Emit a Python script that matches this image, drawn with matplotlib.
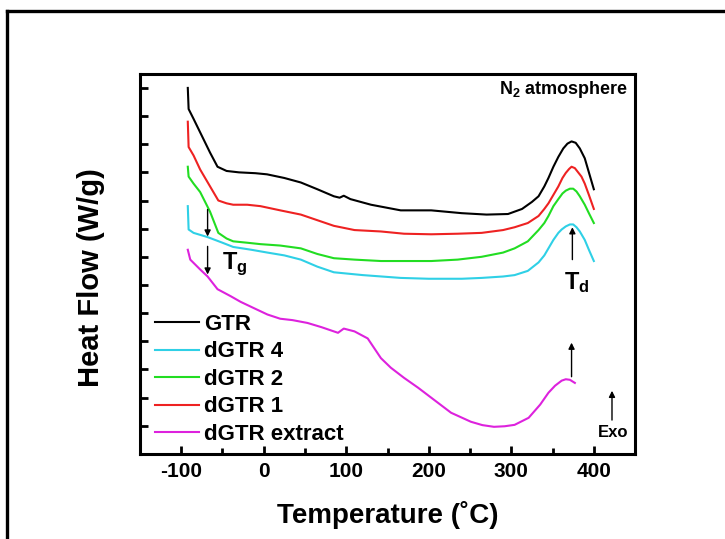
import matplotlib
matplotlib.use("Agg")
import matplotlib.pyplot as plt
from matplotlib.lines import Line2D

plt.rcParams['font.family'] = ['Liberation Sans', 'DejaVu Sans']
plt.rcParams['font.weight'] = 'bold'
plt.rcParams['axes.unicode_minus'] = False
plt.rcParams['mathtext.fontset'] = 'custom'
plt.rcParams['mathtext.rm'] = 'Liberation Sans:bold'
plt.rcParams['mathtext.bf'] = 'Liberation Sans:bold'
plt.rcParams['mathtext.it'] = 'Liberation Sans:bold'

# ---- data (temperature in C, heat flow in arbitrary offset units)
gtr_x = [-92, -91, -85, -75, -65, -56, -45, -30, -10, 4, 25, 45, 65, 85, 92, 97, 105,
         130, 166, 203, 240, 270, 296, 313, 325, 333, 340, 345, 351, 357, 363, 368, 373,
         378, 383, 389, 394, 400]
gtr_y = [13.0, 12.25, 11.9, 11.3, 10.7, 10.2, 10.05, 10.0, 9.97, 9.93, 9.8, 9.64, 9.4, 9.15,
         9.1, 9.17, 9.05, 8.85, 8.65, 8.65, 8.55, 8.5, 8.52, 8.7, 8.95, 9.15, 9.5, 9.8,
         10.2, 10.55, 10.85, 11.02, 11.1, 11.05, 10.85, 10.5, 10.0, 9.4]

dgtr1_x = [-92, -91, -85, -77, -65, -55, -45, -37, -20, -4, 20, 45, 65, 85, 110, 142,
           170, 203, 235, 264, 290, 304, 320, 333, 340, 345, 351, 357, 362, 366, 370, 373,
           377, 381, 385, 389, 394, 400]
dgtr1_y = [11.8, 10.9, 10.6, 10.1, 9.5, 9.0, 8.9, 8.85, 8.85, 8.8, 8.65, 8.5, 8.3, 8.1,
           7.95, 7.9, 7.82, 7.8, 7.82, 7.85, 7.95, 8.05, 8.2, 8.45, 8.7, 8.9, 9.2, 9.5,
           9.8, 9.98, 10.12, 10.2, 10.15, 10.0, 9.85, 9.6, 9.2, 8.7]

dgtr2_x = [-92, -91, -85, -77, -65, -55, -45, -37, -20, -4, 20, 45, 65, 85, 110, 142,
           170, 203, 235, 264, 290, 304, 320, 333, 340, 345, 351, 357, 362, 366, 371, 375,
           379, 383, 389, 394, 400]
dgtr2_y = [10.2, 9.85, 9.6, 9.3, 8.6, 7.85, 7.65, 7.55, 7.5, 7.45, 7.4, 7.3, 7.1, 6.95,
           6.9, 6.85, 6.85, 6.85, 6.9, 7.0, 7.15, 7.3, 7.55, 7.95, 8.2, 8.45, 8.8, 9.05,
           9.25, 9.35, 9.42, 9.42, 9.32, 9.15, 8.85, 8.55, 8.2]

dgtr4_x = [-92, -91, -85, -68, -50, -37, -15, 4.5, 25, 45, 65, 85, 120, 166, 200, 240,
           264, 290, 304, 320, 333, 340, 345, 351, 357, 361, 366, 371, 375, 379, 383, 389,
           394, 400]
dgtr4_y = [8.8, 7.97, 7.85, 7.7, 7.5, 7.35, 7.25, 7.15, 7.05, 6.9, 6.65, 6.45, 6.35, 6.25,
           6.22, 6.22, 6.25, 6.3, 6.35, 6.5, 6.8, 7.05, 7.3, 7.6, 7.85, 7.97, 8.08, 8.15,
           8.15, 8.05, 7.9, 7.6, 7.25, 6.85]

extract_x = [-92, -89, -77, -68, -56, -40, -28, -10, 4.5, 20, 35, 53, 70, 90, 97, 110,
             126, 142, 154, 170, 187, 227, 251, 265, 279, 292, 304, 321, 335, 345, 353,
             361, 366, 371, 377]
extract_y = [7.25, 6.9, 6.55, 6.3, 5.85, 5.6, 5.4, 5.15, 4.95, 4.8, 4.75, 4.65, 4.5, 4.3,
             4.45, 4.35, 4.1, 3.4, 3.06, 2.7, 2.35, 1.46, 1.14, 1.02, 0.96, 0.98, 1.03,
             1.28, 1.75, 2.17, 2.42, 2.6, 2.65, 2.63, 2.52]

series = [
    ("GTR", gtr_x, gtr_y, "#000000"),
    ("dGTR 4", dgtr4_x, dgtr4_y, "#2fd0e6"),
    ("dGTR 2", dgtr2_x, dgtr2_y, "#22dd22"),
    ("dGTR 1", dgtr1_x, dgtr1_y, "#ee2222"),
    ("dGTR extract", extract_x, extract_y, "#dd22dd"),
]

x_ticks = [-100, 0, 100, 200, 300, 400]
y_ticks = list(range(1, 14))

# ---- figure
fig = plt.figure(figsize=(7.25, 5.39), dpi=100)
ax = fig.add_axes([0.193, 0.158, 0.683, 0.705])

for name, xs, ys, col in series:
    ax.plot(xs, ys, color=col, lw=1.5, label=name)

ax.set_xlim(-150, 450)
ax.set_ylim(0, 13.5)
ax.set_xticks(x_ticks)
ax.set_xticks([-50, 50, 150, 250, 350], minor=True)
ax.set_yticks(y_ticks)
ax.set_yticklabels([])
ax.tick_params(axis='both', which='both', direction='in', width=2, top=False, right=False)
ax.tick_params(axis='both', which='major', length=6)
ax.tick_params(axis='x', which='minor', length=4)
ax.tick_params(axis='x', labelsize=15, pad=6)
for s in ax.spines.values():
    s.set_linewidth(2.2)

ax.set_xlabel("Temperature (˚C)", fontsize=20, fontweight='bold', labelpad=14)
ax.set_ylabel("Heat Flow (W/g)", fontsize=21, fontweight='bold')
ax.yaxis.set_label_coords(-0.07, 0.465)

leg = ax.legend(loc='upper left', bbox_to_anchor=(0.03, 0.368), frameon=False,
                fontsize=16, handlelength=2.0, handletextpad=0.2, labelspacing=0.29,
                borderpad=0, borderaxespad=0)

# ---- annotations
arr = dict(arrowstyle='-|>', color='k', lw=1, mutation_scale=9, shrinkA=0, shrinkB=0)
ax.annotate('', xy=(-68, 7.72), xytext=(-68, 8.68), arrowprops=arr)
ax.annotate('', xy=(-68, 6.37), xytext=(-68, 7.37), arrowprops=arr)
ax.text(-50, 6.75, r'T$_{\mathrm{g}}$', fontsize=17, ha='left', va='center')

ax.annotate('', xy=(374, 8.05), xytext=(374, 6.9), arrowprops=arr)
ax.text(379, 6.1, r'T$_{\mathrm{d}}$', fontsize=17, ha='center', va='center')

ax.annotate('', xy=(373, 3.95), xytext=(373, 2.74), arrowprops=arr)

ax.annotate('', xy=(422, 2.24), xytext=(422, 1.2), arrowprops=arr)
ax.text(423, 0.75, 'Exo', fontsize=12, ha='center', va='center')

ax.text(442, 12.95, r'N$_{2}$ atmosphere', fontsize=13, ha='right', va='center')

# outer frame (top and left edges visible in the original crop)
fig.add_artist(Line2D([0.0103, 1.0], [0.9805, 0.9805], color='k', lw=2.4))
fig.add_artist(Line2D([0.0103, 0.0103], [0.0, 0.9805], color='k', lw=2.4))

fig.savefig("out.png", dpi=100)
